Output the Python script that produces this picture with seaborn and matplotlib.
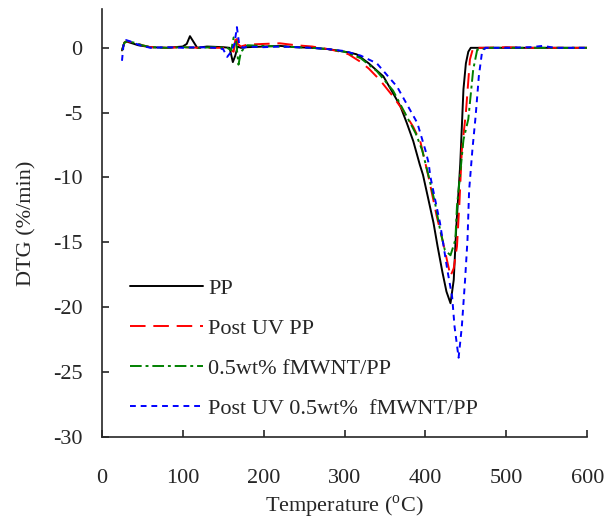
import matplotlib
matplotlib.use('Agg')
import seaborn as sns
import matplotlib.pyplot as plt
import pandas as pd

# PP
pp_t = [25, 28, 30, 35, 45, 60, 80, 100, 105, 109, 113, 118, 130, 150, 158, 162, 165, 168, 172,
        180, 200, 220, 240, 260, 280, 295, 305, 315, 330, 348, 360, 369, 377, 385, 393, 397, 403,
        410, 415, 421, 426, 431, 435, 438, 440, 443, 447, 450, 453, 456, 470, 500, 530, 560, 600]
pp_dtg = [-0.2, 0.4, 0.5, 0.4, 0.2, 0.05, 0.0, 0.1, 0.3, 0.9, 0.5, 0.0, 0.1, 0.05, 0.0, -1.1, -0.6, 0.1, 0.0,
          0.05, 0.1, 0.15, 0.05, 0.0, -0.1, -0.25, -0.35, -0.5, -1.2, -2.2, -3.5, -4.5, -5.8, -7.2, -9.0, -9.8, -11.5,
          -13.5, -15.3, -17.3, -18.8, -19.7, -17.9, -14.0, -12.0, -9.0, -3.2, -1.2, -0.3, 0.0, 0.0, 0.0, 0.0, 0.0, 0.0]

# Post UV PP
uvpp_t = [25, 28, 32, 40, 50, 60, 80, 100, 120, 140, 155, 163, 166, 168, 172, 180, 200, 220, 240,
          260, 280, 295, 305, 319, 330, 344, 360, 372, 385, 394, 404, 414, 421, 426, 431, 435, 439,
          442, 445, 450, 455, 459, 470, 500, 530, 560, 600]
uvpp_dtg = [-0.2, 0.4, 0.5, 0.4, 0.2, 0.05, 0.0, 0.05, 0.0, 0.0, 0.0, -0.3, 1.0, 0.3, 0.1, 0.25, 0.3, 0.35, 0.2,
            0.1, -0.1, -0.3, -0.5, -1.05, -1.6, -2.5, -3.75, -4.8, -6.1, -7.3, -10.0, -13.0, -14.8, -16.2, -17.6, -17.0, -15.3,
            -12.0, -7.9, -5.0, -0.9, 0.0, 0.0, 0.05, 0.0, 0.0, 0.0]

# 0.5wt% fMWNT/PP
cnt_t = [25, 28, 32, 40, 50, 60, 80, 100, 120, 140, 155, 160, 163, 166, 169, 172, 180, 200, 220,
         240, 260, 280, 300, 320, 340, 360, 377, 388, 396, 404, 412, 418, 424, 431, 437, 439, 443,
         447, 453, 459, 464, 480, 500, 530, 560, 600]
cnt_dtg = [-0.2, 0.4, 0.5, 0.4, 0.2, 0.05, 0.0, 0.05, 0.0, 0.05, 0.0, -0.2, 0.8, 0.5, -1.3, -0.3, 0.2, 0.15, 0.1,
           0.05, 0.0, -0.1, -0.3, -0.8, -1.8, -3.3, -5.3, -6.6, -7.9, -9.9, -12.0, -14.0, -15.6, -16.0, -14.8, -12.2, -9.7,
           -7.1, -5.5, -1.7, -0.15, 0.0, 0.0, 0.0, 0.0, 0.0]

# Post UV 0.5wt% fMWNT/PP
uvcnt_t = [25, 27, 30, 35, 47, 60, 80, 100, 120, 140, 150, 155, 160, 164, 167, 170, 175, 180, 200,
           220, 240, 260, 280, 300, 320, 340, 365, 390, 400, 404, 406, 418, 427, 433, 436, 441, 445,
           449, 452, 454, 458, 462, 466, 470, 474, 500, 530, 545, 560, 600]
uvcnt_dtg = [-1.0, 0.3, 0.6, 0.5, 0.2, 0.0, 0.05, 0.0, 0.05, 0.0, -0.1, -0.7, -0.3, 0.3, 1.6, 0.2, 0.0, 0.1, 0.05,
             0.1, 0.05, 0.0, -0.1, -0.25, -0.6, -1.2, -3.0, -5.8, -7.9, -8.9, -9.9, -13.5, -17.1, -19.2, -21.5, -23.9, -21.5,
             -17.9, -14.8, -11.0, -7.9, -5.3, -2.2, -0.3, 0.0, 0.0, 0.05, 0.15, 0.0, 0.0]

labels = ['PP', 'Post UV PP', '0.5wt% fMWNT/PP', 'Post UV 0.5wt%  fMWNT/PP']
colors = ['black', 'red', 'green', 'blue']
dash_styles = ['-', (0, (8, 4)), (0, (6, 2, 1.5, 2)), (0, (3, 2.5))]

sns.set_style('ticks')
plt.rcParams['font.family'] = ['Liberation Serif', 'DejaVu Serif']
plt.rcParams['mathtext.fontset'] = 'custom'
plt.rcParams['mathtext.rm'] = 'Liberation Serif'
plt.rcParams['axes.unicode_minus'] = False

fig = plt.figure(figsize=(6.13, 5.25), dpi=100)
ax = fig.add_axes([0.166, 0.168, 0.792, 0.815])

series = [(pp_t, pp_dtg), (uvpp_t, uvpp_dtg), (cnt_t, cnt_dtg), (uvcnt_t, uvcnt_dtg)]
for (t, d), lab, c, ls in zip(series, labels, colors, dash_styles):
    df = pd.DataFrame({'t': t, 'dtg': d})
    sns.lineplot(data=df, x='t', y='dtg', color=c, linestyle=ls, linewidth=1.4,
                 label=lab, ax=ax, sort=False, estimator=None)

ax.set_xlim(0, 600)
ax.set_ylim(-30, 3)
ax.set_xticks(range(0, 601, 100))
ax.set_yticks(range(-30, 1, 5))
sns.despine(ax=ax)
ax.spines['left'].set_linewidth(1.2)
ax.spines['bottom'].set_linewidth(1.2)
ax.tick_params(axis='both', direction='in', length=5, width=1.2, labelsize=16)
ax.tick_params(axis='x', pad=23)
ax.tick_params(axis='y', pad=14)
ax.set_xlabel('Temperature ($^\\mathrm{o}$C)', fontsize=16, labelpad=4)
ax.set_ylabel('DTG (%/min)', fontsize=16, labelpad=12)

ax.legend(loc='lower left', bbox_to_anchor=(0.016, -0.005), frameon=False, fontsize=16,
          handlelength=3.3, handletextpad=0.25, labelspacing=0.88)

plt.savefig('out.png', dpi=100)
